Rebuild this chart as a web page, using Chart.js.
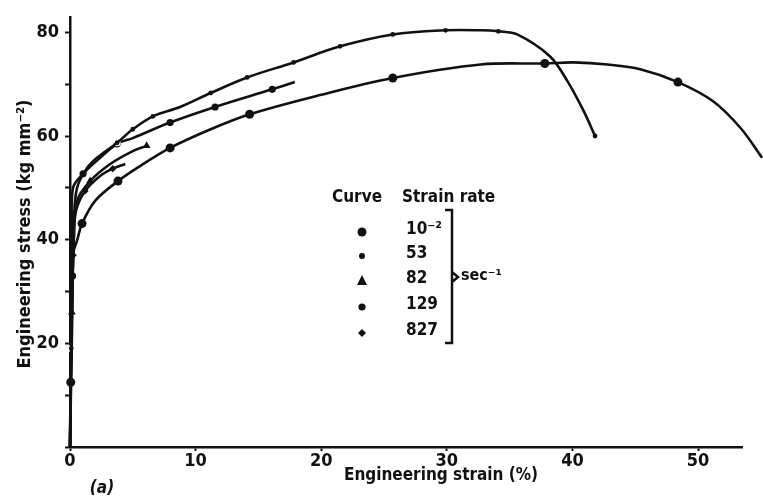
<!DOCTYPE html>
<html>
<head>
<meta charset="utf-8">
<script src="https://cdn.jsdelivr.net/npm/chart.js"></script>
<style>
  html, body { margin: 0; padding: 0; background: #fff; }
</style>
</head>
<body>
<canvas id="myChart" width="763" height="503"></canvas>
<script>
// strain rates (sec^-1) as written in the key
const rateLabels = ['10\u207B\u00B2', '53', '82', '129', '827'];

// 10^-2 sec^-1 curve (big dots)
const slowStrain = [0, 0.16, 0.24, 0.56, 0.96, 2.0, 3.82, 5.58, 7.97, 11.2, 14.3, 19.9, 25.7, 32.7, 37.8, 40.1, 42.8, 45.4, 48.4, 51.2, 53.4, 55.1];
const slowStress = [0, 28.3, 37.3, 39.8, 43.1, 47.5, 51.3, 54.2, 57.7, 61.3, 64.2, 67.9, 71.2, 73.8, 74.0, 74.2, 73.8, 72.9, 70.4, 66.7, 61.5, 55.8];
const slowMarkStrain = [0.06, 0.96, 3.82, 7.97, 14.3, 25.7, 37.8, 48.4];
const slowMarkStress = [12.5, 43.1, 51.3, 57.7, 64.2, 71.2, 74.0, 70.4];

// 53 sec^-1 curve (small dots), the one that reaches 80
const r53Strain = [0, 0.16, 0.32, 0.56, 1.35, 2.15, 3.75, 5.0, 6.6, 8.76, 11.2, 14.1, 17.8, 21.5, 25.7, 29.9, 32.7, 34.1, 35.6, 38.2, 39.6, 40.9, 41.8];
const r53Stress = [0, 22.5, 43.7, 50, 53.8, 55.8, 58.7, 61.3, 63.8, 65.6, 68.3, 71.3, 74.2, 77.3, 79.6, 80.4, 80.4, 80.2, 79.6, 75.4, 70.6, 64.8, 60.0];
const r53MarkStrain = [0.1, 3.75, 5.0, 6.6, 11.2, 14.1, 17.8, 21.5, 25.7, 29.9, 34.1, 41.8];
const r53MarkStress = [19, 58.7, 61.3, 63.8, 68.3, 71.3, 74.2, 77.3, 79.6, 80.4, 80.2, 60.0];

// 82 sec^-1 curve (triangles)
const r82Strain = [0, 0.12, 0.3, 0.56, 1.6, 3.2, 5.0, 6.1];
const r82Stress = [0, 22, 40, 47.5, 51.3, 54.6, 57.1, 58.1];
const r82MarkStrain = [0.15, 1.6, 6.1];
const r82MarkStress = [26, 51.3, 58.1];

// 129 sec^-1 curve (dots), ends near 18 %
const r129Strain = [0, 0.08, 0.16, 0.24, 1.04, 2.4, 3.75, 5.0, 7.97, 11.55, 16.1, 17.9];
const r129Stress = [0, 22.5, 41.7, 50, 52.7, 55.8, 58.5, 59.6, 62.6, 65.6, 69.0, 70.4];
const r129MarkStrain = [0.2, 1.04, 3.75, 7.97, 11.55, 16.1];
const r129MarkStress = [33, 52.7, 58.5, 62.6, 65.6, 69.0];

// 827 sec^-1 curve (diamonds)
const r827Strain = [0, 0.12, 0.3, 0.48, 1.2, 2.4, 3.4, 4.4];
const r827Stress = [0, 24, 40, 45.6, 49.4, 52.3, 53.7, 54.6];
const r827MarkStrain = [0.25, 1.2, 3.4];
const r827MarkStress = [37, 49.4, 53.7];

const xTicksMax = 53.5;
const yTicksMax = 83;

const INK = '#111';
const FONT = '"DejaVu Sans Condensed", "DejaVu Sans", sans-serif';

const zip = (xs, ys) => xs.map((x, i) => ({ x: x, y: ys[i] }));

const CURVES = [
  { s: slowStrain, t: slowStress, ms: slowMarkStrain, mt: slowMarkStress, style: 'circle', r: 4.5, ring: 0 },
  { s: r53Strain, t: r53Stress, ms: r53MarkStrain, mt: r53MarkStress, style: 'circle', r: 3, ring: 1.2 },
  { s: r82Strain, t: r82Stress, ms: r82MarkStrain, mt: r82MarkStress, style: 'triangle', r: 4.5, ring: 0 },
  { s: r129Strain, t: r129Stress, ms: r129MarkStrain, mt: r129MarkStress, style: 'circle', r: 3.6, ring: 0 },
  { s: r827Strain, t: r827Stress, ms: r827MarkStrain, mt: r827MarkStress, style: 'rectRot', r: 3.6, ring: 0 }
];

const datasets = [];
CURVES.forEach((c) => {
  datasets.push({
    data: zip(c.s, c.t),
    showLine: true,
    borderColor: INK,
    borderWidth: 2.6,
    pointRadius: 0,
    tension: 0.35,
    fill: false,
    clip: false
  });
  datasets.push({
    data: zip(c.ms, c.mt),
    showLine: false,
    pointStyle: c.style,
    pointRadius: c.r,
    backgroundColor: INK,
    borderColor: c.ring ? '#fff' : INK,
    borderWidth: c.ring,
    clip: false
  });
});

// key, titles and the (a) label
const decorations = {
  id: 'decorations',
  afterDraw(chart) {
    const ctx = chart.ctx;
    ctx.save();
    ctx.fillStyle = INK;
    ctx.strokeStyle = INK;
    ctx.textBaseline = 'middle';

    ctx.font = 'bold 18px ' + FONT;
    ctx.save();
    ctx.translate(25, 234);
    ctx.rotate(-Math.PI / 2);
    ctx.textAlign = 'center';
    ctx.fillText('Engineering stress (kg mm\u207B\u00B2)', 0, 0);
    ctx.restore();

    ctx.textAlign = 'center';
    ctx.font = 'bold 17px ' + FONT;
    ctx.fillText('Engineering strain (%)', 441, 476);
    ctx.font = 'italic bold 17px ' + FONT;
    ctx.fillText('(a)', 102, 489);

    // key
    ctx.font = 'bold 17px ' + FONT;
    ctx.textAlign = 'left';
    ctx.fillText('Curve', 332, 198);
    ctx.fillText('Strain rate', 402, 198);
    const rowY = [230, 254, 279, 305, 331];
    rateLabels.forEach((lab, i) => {
      ctx.fillText(lab, 406, rowY[i]);
      const c = CURVES[i];
      const mx = 362, my = rowY[i] + 2;
      ctx.beginPath();
      if (c.style === 'triangle') {
        ctx.moveTo(mx, my - 6);
        ctx.lineTo(mx + 5, my + 4);
        ctx.lineTo(mx - 5, my + 4);
        ctx.closePath();
      } else if (c.style === 'rectRot') {
        ctx.moveTo(mx, my - 4);
        ctx.lineTo(mx + 4, my);
        ctx.lineTo(mx, my + 4);
        ctx.lineTo(mx - 4, my);
        ctx.closePath();
      } else {
        ctx.arc(mx, my, Math.max(c.r, 3), 0, Math.PI * 2);
      }
      ctx.fill();
    });

    // bracket
    ctx.lineWidth = 2.5;
    ctx.beginPath();
    ctx.moveTo(445, 210);
    ctx.lineTo(452, 210);
    ctx.lineTo(452, 343);
    ctx.lineTo(445, 343);
    ctx.moveTo(452, 272);
    ctx.lineTo(458, 277);
    ctx.lineTo(452, 282);
    ctx.stroke();
    ctx.font = 'bold 16px ' + FONT;
    ctx.fillText('sec\u207B\u00B9', 461, 276);

    ctx.restore();
  }
};

const chartEl = document.getElementById('myChart');
new Chart(chartEl, {
  type: 'scatter',
  data: { datasets: datasets },
  options: {
    responsive: false,
    animation: false,
    layout: { padding: { top: 15, right: 21, left: 0, bottom: 0 } },
    plugins: {
      legend: { display: false },
      tooltip: { enabled: false }
    },
    scales: {
      x: {
        type: 'linear',
        min: 0,
        max: xTicksMax,
        afterFit: (s) => { s.height = 56; },
        border: { display: true, color: INK, width: 2.5 },
        grid: { drawOnChartArea: false, color: INK, tickLength: 4, tickWidth: 2 },
        ticks: {
          stepSize: 10,
          includeBounds: false,
          color: INK,
          padding: 0,
          maxRotation: 0,
          font: { family: FONT, size: 18, weight: 'bold' }
        }
      },
      y: {
        type: 'linear',
        min: 0,
        max: yTicksMax,
        afterFit: (s) => { s.width = 70; },
        border: { display: true, color: INK, width: 2.5 },
        grid: { drawOnChartArea: false, color: INK, tickLength: 5, tickWidth: 2 },
        ticks: {
          stepSize: 10,
          includeBounds: false,
          color: INK,
          padding: 6,
          font: { family: FONT, size: 18, weight: 'bold' },
          callback: (v) => (v > 0 && v % 20 === 0) ? v : ''
        }
      }
    }
  },
  plugins: [decorations]
});
</script>
</body>
</html>
